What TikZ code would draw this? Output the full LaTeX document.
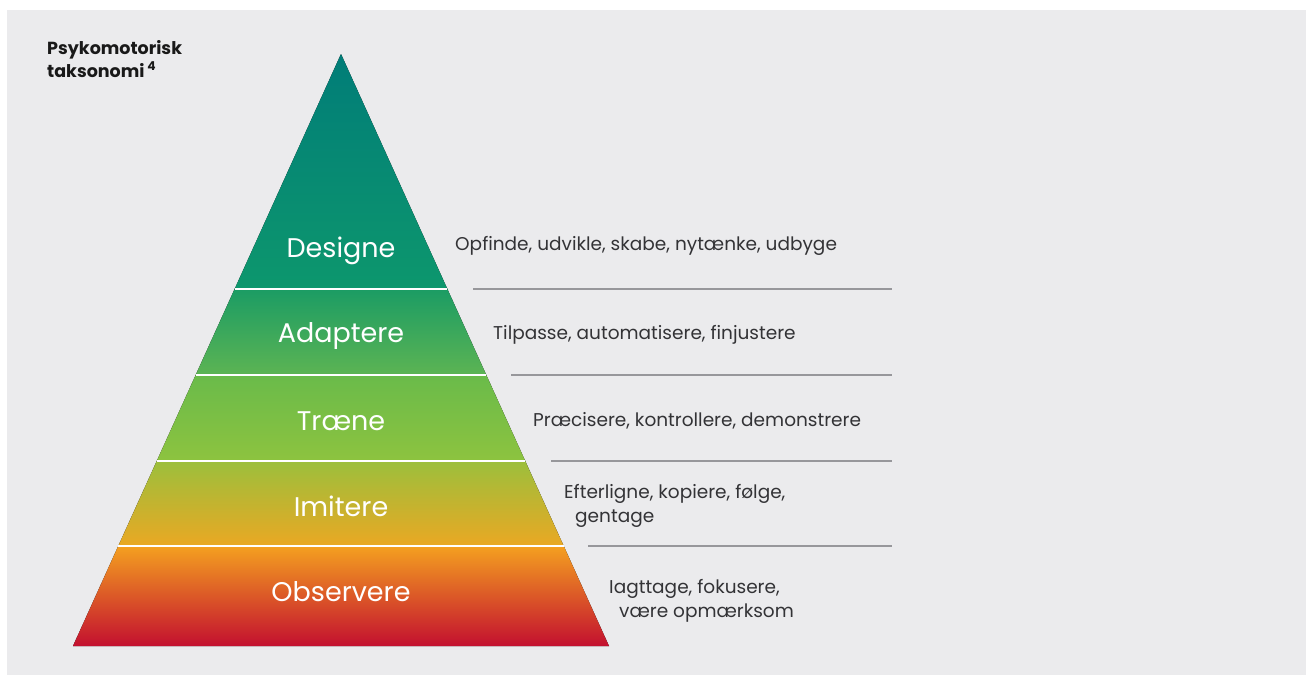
\documentclass[tikz,border=0pt]{standalone}
\usepackage{fontspec}
\setmainfont{Poppins}
\usepackage{tkz-euclide}
\usetikzlibrary{calc}

\definecolor{panel}{HTML}{EBEBED}
\definecolor{inkgray}{HTML}{333336}
\definecolor{rulegray}{HTML}{97979B}
\definecolor{tealtop}{HTML}{017D78}
\definecolor{tealbot}{HTML}{0D976D}
\definecolor{adatop}{HTML}{1B9C64}
\definecolor{adabot}{HTML}{5CB453}
\definecolor{tratop}{HTML}{6ABB4A}
\definecolor{trabot}{HTML}{8DC33F}
\definecolor{imitop}{HTML}{9CBF3C}
\definecolor{imimid}{HTML}{C9B32F}
\definecolor{imibot}{HTML}{EAA823}
\definecolor{obstop}{HTML}{F4A020}
\definecolor{obsmid}{HTML}{DF6A2E}
\definecolor{obsbot}{HTML}{C3102F}

\tikzset{
  level/.style={text=white, font=\fontsize{27}{32}\selectfont},
  verbs/.style={anchor=west, align=left, text=inkgray, inner sep=0pt,
    font=\fontsize{18.5}{24}\selectfont},
  rule/.style={draw=rulegray, line width=1.2pt},
  sep/.style={draw=white, line width=1.6pt}
}

\begin{document}
\begin{tikzpicture}[x=1pt,y=-1pt]

    \useasboundingbox (0,0) rectangle (1306,675);
    \fill[white] (0,0) rectangle (1306,675);
    \fill[panel] (7,10) rectangle (1306,675);

    % pyramid corners
    \tkzDefPoint(341,54){A}
    \tkzDefPoint(73,646){B}
    \tkzDefPoint(609,646){C}
    \coordinate (L1) at ($(A)!0.39696!(B)$);
    \coordinate (R1) at ($(A)!0.39696!(C)$);
    \coordinate (L2) at ($(A)!0.54223!(B)$);
    \coordinate (R2) at ($(A)!0.54223!(C)$);
    \coordinate (L3) at ($(A)!0.68750!(B)$);
    \coordinate (R3) at ($(A)!0.68750!(C)$);
    \coordinate (L4) at ($(A)!0.83108!(B)$);
    \coordinate (R4) at ($(A)!0.83108!(C)$);

    % bands
    \tkzFillPolygon[top color=tealtop,middle color=tealtop!85!tealbot,bottom color=tealbot](A,R1,L1)
    \tkzFillPolygon[top color=adatop,bottom color=adabot](L1,R1,R2,L2)
    \tkzFillPolygon[top color=tratop,bottom color=trabot](L2,R2,R3,L3)
    \tkzFillPolygon[top color=imitop,middle color=imimid,bottom color=imibot](L3,R3,R4,L4)
    \tkzFillPolygon[top color=obstop,middle color=obsmid,bottom color=obsbot](L4,R4,C,B)
    \draw[sep] (L1) -- (R1);
    \draw[sep] (L2) -- (R2);
    \draw[sep] (L3) -- (R3);
    \draw[sep] (L4) -- (R4);

    \node[level] (designe) at (341,251) {Designe};
    \node[level] (adaptere) at (341,336) {Adaptere};
    \node[level] (traene) at (341,421) {Træne};
    \node[level] (imitere) at (341,506) {Imitere};
    \node[level] (observere) at (341,592) {Observere};

    % verbs on the right
    \node[verbs] (v1) at (455,246) {Opfinde, udvikle, skabe, nytænke, udbyge};
    \node[verbs] (v2) at (493,335) {Tilpasse, automatisere, finjustere};
    \node[verbs] (v3) at (533,421) {Præcisere, kontrollere, demonstrere};
    \node[verbs] (v4) at (564,506) {Efterligne, kopiere, følge,\\\hspace*{11pt}gentage};
    \node[verbs] (v5) at (609,601) {Iagttage, fokusere,\\\hspace*{10pt}være opmærksom};
    \draw[rule] (473,289) -- (892,289);
    \draw[rule] (511,375) -- (892,375);
    \draw[rule] (551,461) -- (892,461);
    \draw[rule] (588,546) -- (892,546);

    \node[anchor=north west, align=left, inner sep=0pt, text=black!90,
      font=\bfseries\fontsize{17.5}{23}\selectfont] (title) at (47,40)
      {Psykomotorisk\\taksonomi\,\textsuperscript{4}};

\end{tikzpicture}
\end{document}
